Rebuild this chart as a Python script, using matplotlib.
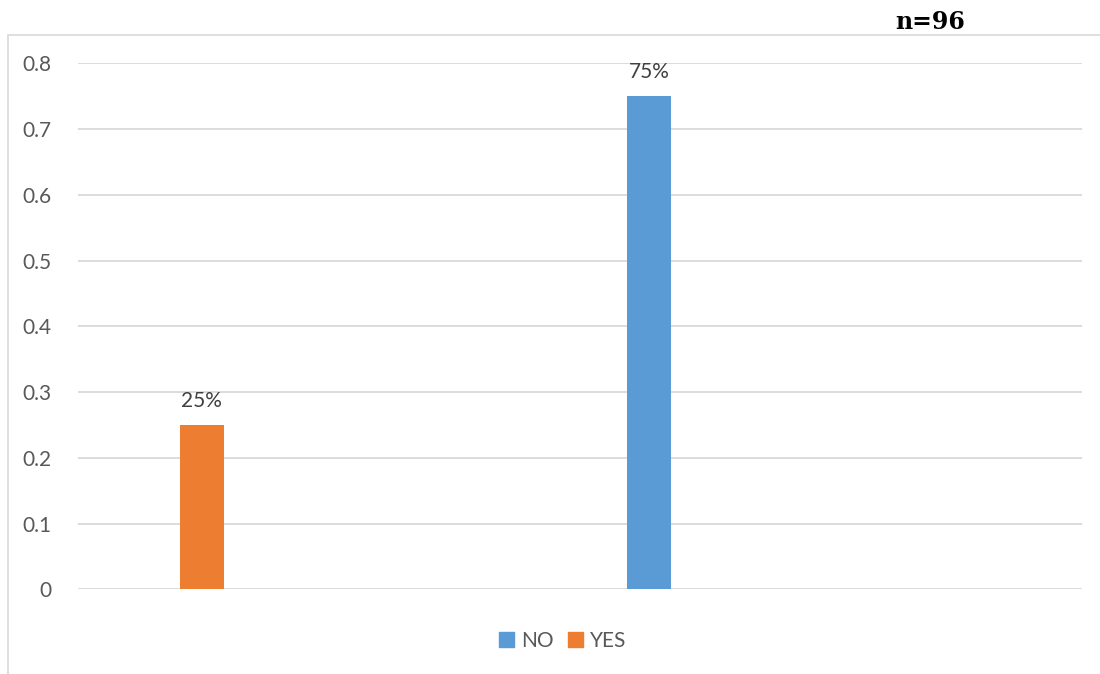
import matplotlib
matplotlib.use("Agg")
import matplotlib.pyplot as plt
from matplotlib.patches import Rectangle

categories = ["YES", "NO"]
values = [0.25, 0.75]
labels = ["25%", "75%"]
colors = ["#ED7D31", "#5B9BD5"]
yticks = [0, 0.1, 0.2, 0.3, 0.4, 0.5, 0.6, 0.7, 0.8]
ytick_labels = ["0", "0.1", "0.2", "0.3", "0.4", "0.5", "0.6", "0.7", "0.8"]
legend_order = ["NO", "YES"]
note = "n=96"

plt.rcParams['font.family'] = ['Lato', 'DejaVu Sans']
W, H = 1100, 674
fig = plt.figure(figsize=(W/100, H/100), dpi=100)
ax = fig.add_axes([78/W, 1-589.3/H, (1082-78)/W, (589.3-63.3)/H])

# outer chart border
fig.patches.append(Rectangle((7.5/W, -0.1), 1.2, 1-35.5/H+0.1, transform=fig.transFigure,
                             fill=False, edgecolor="#D9D9D9", linewidth=1.2))

x = list(range(len(categories)))
bars = ax.bar(x, values, width=0.098, color=colors, zorder=3)
for xi, v, lab in zip(x, values, labels):
    ax.annotate(lab, (xi, v), xytext=(0, 10), textcoords="offset points",
                ha="center", va="bottom", fontsize=15, color="#404040")

ax.set_xlim(-0.277, 1.969)
ax.set_ylim(0, 0.8)
ax.set_yticks(yticks)
ax.set_yticklabels(ytick_labels, fontsize=15, color="#595959")
ax.tick_params(axis="y", length=0, pad=19)
ax.set_xticks([])
ax.grid(axis="y", color="#D9D9D9", linewidth=1.3, zorder=0)
for s in ax.spines.values():
    s.set_visible(False)

handles = [Rectangle((0, 0), 1, 1, color=colors[categories.index(c)]) for c in legend_order]
fig.legend(handles, legend_order, loc="center", bbox_to_anchor=(563/W, 1-641/H),
           ncol=2, frameon=False, fontsize=15, handlelength=0.7, handleheight=0.7,
           handletextpad=0.35, columnspacing=0.7, labelcolor="#595959")

fig.text(930/W, 1-22/H, note, ha="center", va="center", fontsize=17,
         fontweight="bold", family="DejaVu Serif", color="#000000")

fig.savefig("out.png", dpi=100)
